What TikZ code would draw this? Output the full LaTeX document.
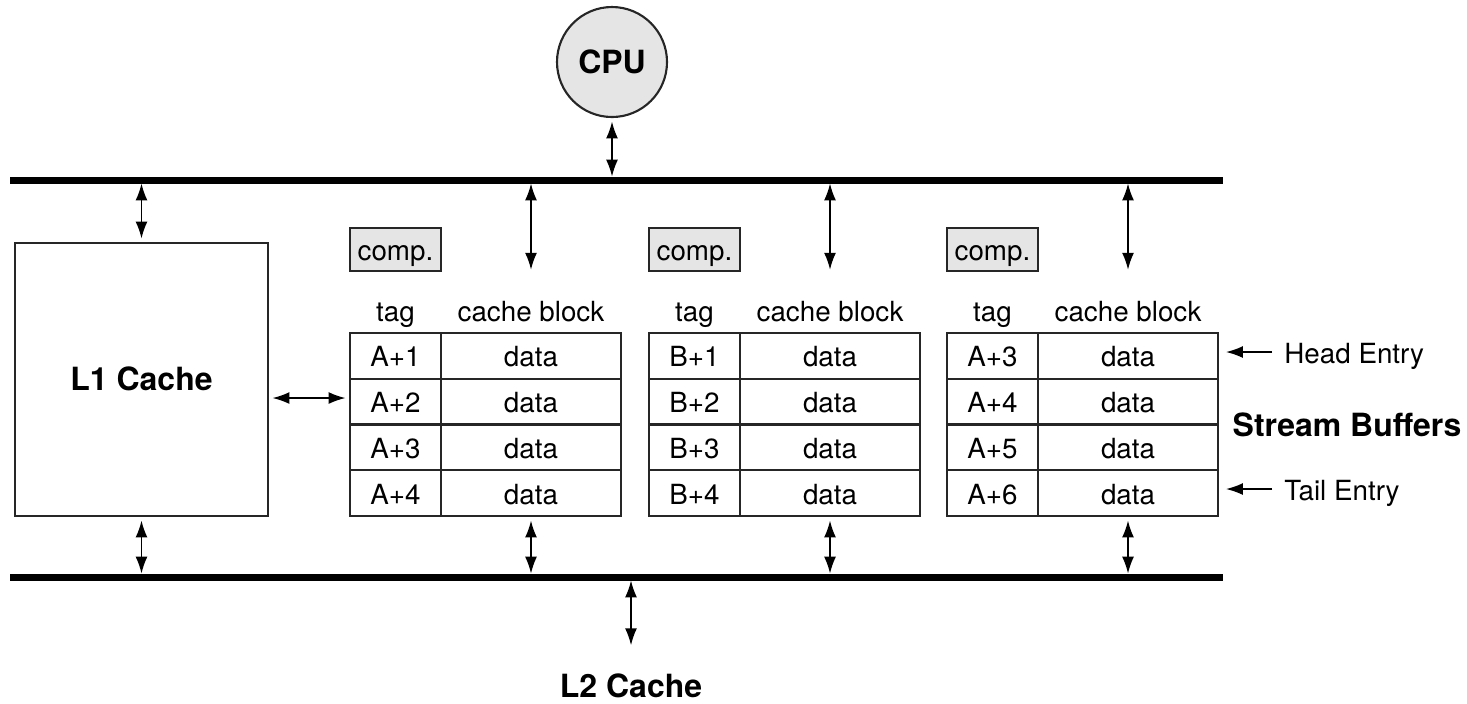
\documentclass[tikz,border=0pt]{standalone}
\usepackage{fontspec}
\setmainfont{TeX Gyre Heros}
\usetikzlibrary{arrows.meta,calc}
\definecolor{boxgray}{gray}{0.9}
\tikzset{
	every node/.style={font=\fontsize{7.9pt}{9pt}\selectfont, text height=1.6ex, text depth=0.4ex},
	bold/.style={font=\fontsize{9.1pt}{11pt}\selectfont\bfseries},
	bus/.style={draw=black, line width=2pt},
	link/.style={draw=black, thin, {Latex[length=4.8pt,width=3.4pt]}-{Latex[length=4.8pt,width=3.4pt]}, shorten >=1pt, shorten <=1pt},
	pointer/.style={draw=black, thin, -{Latex[length=4.8pt,width=3.4pt]}},
	tagcell/.style={draw=black!85, semithick, minimum width=0.91cm, minimum height=0.4575cm, inner sep=0pt},
	datacell/.style={draw=black!85, semithick, minimum width=1.80cm, minimum height=0.4575cm, inner sep=0pt},
	compbox/.style={draw=black!85, semithick, fill=boxgray, minimum width=0.91cm, minimum height=0.43cm, inner sep=0pt},
}
\begin{document}
\begin{tikzpicture}
	\useasboundingbox (0,0) rectangle (14.67,-7.03);
	\coordinate (tbL) at (0.10,-1.80);
	\coordinate (tbR) at (12.23,-1.80);
	\coordinate (bbL) at (0.10,-5.77);
	\coordinate (bbR) at (12.23,-5.77);
	\draw[bus] (tbL) -- (tbR);
	\draw[bus] (bbL) -- (bbR);
	\node[bold, circle, draw=black!85, semithick, fill=boxgray, minimum size=1.10cm, inner sep=0pt] (cpu) at (6.12,-0.62) {CPU};
	\node[bold, draw=black!85, semithick, minimum width=2.53cm, minimum height=2.73cm] (l1) at (1.415,-3.795) {L1 Cache};
	\node[bold] (l2) at (6.31,-6.86) {L2 Cache};
	\draw[link] (cpu.south) -- (cpu.south |- tbL);
	\draw[link] (l1.north) -- (l1.north |- tbL);
	\draw[link] (l1.south) -- (l1.south |- bbL);
	\draw[link, shorten <=0.1cm] (l2.north) -- (l2.north |- bbL);
	\foreach \b/\x/\p/\s in {1/3.50/A/1, 2/6.49/B/1, 3/9.47/A/3} {
		\node[compbox] (comp\b) at (\x+0.455,-2.495) {comp.};
		\node (hdt\b) at (\x+0.455,-3.10) {tag};
		\node (hdd\b) at (\x+1.81,-3.10) {cache block};
		\foreach \r in {1,...,4} {
			\pgfmathtruncatemacro{\n}{\s+\r-1}
			\node[tagcell] (t\b-\r) at (\x+0.455,{-3.33-0.4575*(\r-0.5)}) {\p+\n};
			\node[datacell] (d\b-\r) at (\x+1.81,{-3.33-0.4575*(\r-0.5)}) {data};
		}
		\draw[link] ([yshift=0.06cm]hdd\b.north) -- (hdd\b.north |- tbL);
		\draw[link] (d\b-4.south) -- (d\b-4.south |- bbL);
	}
	\draw[link] (l1.east |- 0,-3.98) -- (t1-2.west |- 0,-3.98);
	\node[anchor=west] (head) at (12.72,-3.52) {Head Entry};
	\node[anchor=west] (tail) at (12.72,-4.89) {Tail Entry};
	\node[bold] (sb) at (13.47,-4.25) {Stream Buffers};
	\draw[pointer, shorten >=0.07cm] (head.west) -- (head.west -| d3-1.east);
	\draw[pointer, shorten >=0.07cm] (tail.west) -- (tail.west -| d3-4.east);
\end{tikzpicture}
\end{document}
